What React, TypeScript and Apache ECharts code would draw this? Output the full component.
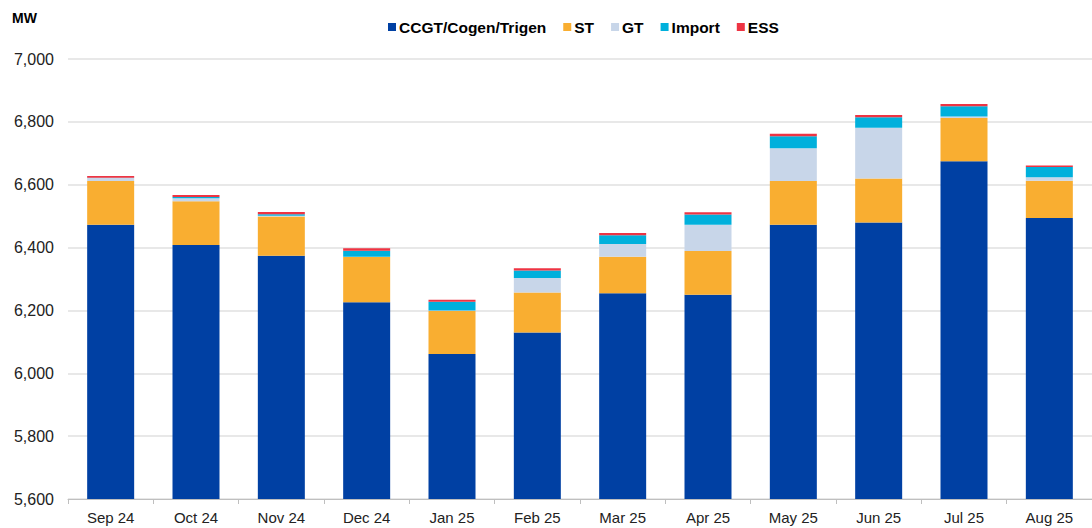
import React, { useEffect, useRef } from "react";
import * as echarts from "echarts";

const categories = ["Sep 24", "Oct 24", "Nov 24", "Dec 24", "Jan 25", "Feb 25", "Mar 25", "Apr 25", "May 25", "Jun 25", "Jul 25", "Aug 25"];
const ccgt = [6473, 6408, 6374, 6226, 6061, 6130, 6255, 6250, 6473, 6480, 6675, 6494];
const st = [139, 139, 125, 144, 137, 127, 116, 139, 139, 140, 137, 119];
const gt = [9, 10, 2, 1, 2, 46, 40, 84, 104, 161, 5, 11];
const imp = [1, 4, 5, 19, 28, 24, 28, 32, 38, 34, 33, 32];
const ess = [6, 6, 7, 8, 6, 7, 7, 7, 8, 7, 7, 5];

const seriesNames = ["CCGT/Cogen/Trigen", "ST", "GT", "Import", "ESS"];
const seriesData = [ccgt, st, gt, imp, ess];
const colors = ["#0040A3", "#F9AE31", "#C8D6E9", "#00B0DC", "#EE3443"];

export default function App() {
  const ref = useRef<HTMLDivElement>(null);
  useEffect(() => {
    if (!ref.current) return;
    const chart = echarts.init(ref.current, null, { renderer: "svg" });
    chart.setOption({
      animation: false,
      color: colors,
      textStyle: { fontFamily: "Liberation Sans, Arial, sans-serif" },
      title: {
        text: "MW",
        left: 7,
        top: 6,
        textStyle: { fontSize: 14, fontWeight: "bold", color: "#000" },
      },
      legend: {
        left: 383,
        top: 14,
        itemWidth: 8,
        itemHeight: 8,
        itemGap: 17,
        icon: "rect",
        textStyle: { fontSize: 15.5, fontWeight: "bold", color: "#000", padding: [0, 0, 0, -2] },
        data: seriesNames,
      },
      grid: { left: 68, right: -5, top: 59, bottom: 29, containLabel: false },
      xAxis: {
        type: "category",
        data: categories,
        axisLine: { lineStyle: { color: "#BFBFBF" } },
        axisTick: { show: true, alignWithLabel: false, length: 5, lineStyle: { color: "#BFBFBF" } },
        axisLabel: { fontSize: 15, color: "#222", margin: 11 },
      },
      yAxis: {
        type: "value",
        min: 5600,
        max: 7000,
        interval: 200,
        axisLine: { show: false },
        axisTick: { show: false },
        splitLine: { lineStyle: { color: "#E0E0E0", width: 1.5 } },
        axisLabel: {
          fontSize: 16,
          color: "#222",
          margin: 14,
          formatter: (v: number) => v.toLocaleString("en-US"),
        },
      },
      series: seriesNames.map((name, i) => ({
        name,
        type: "bar",
        stack: "total",
        barWidth: 47,
        data: seriesData[i],
        itemStyle: { color: colors[i] },
      })),
    });
    return () => chart.dispose();
  }, []);
  return (
    <div
      ref={ref}
      style={{ position: "absolute", left: 0, top: 0, width: 1092, height: 528 }}
    />
  );
}
